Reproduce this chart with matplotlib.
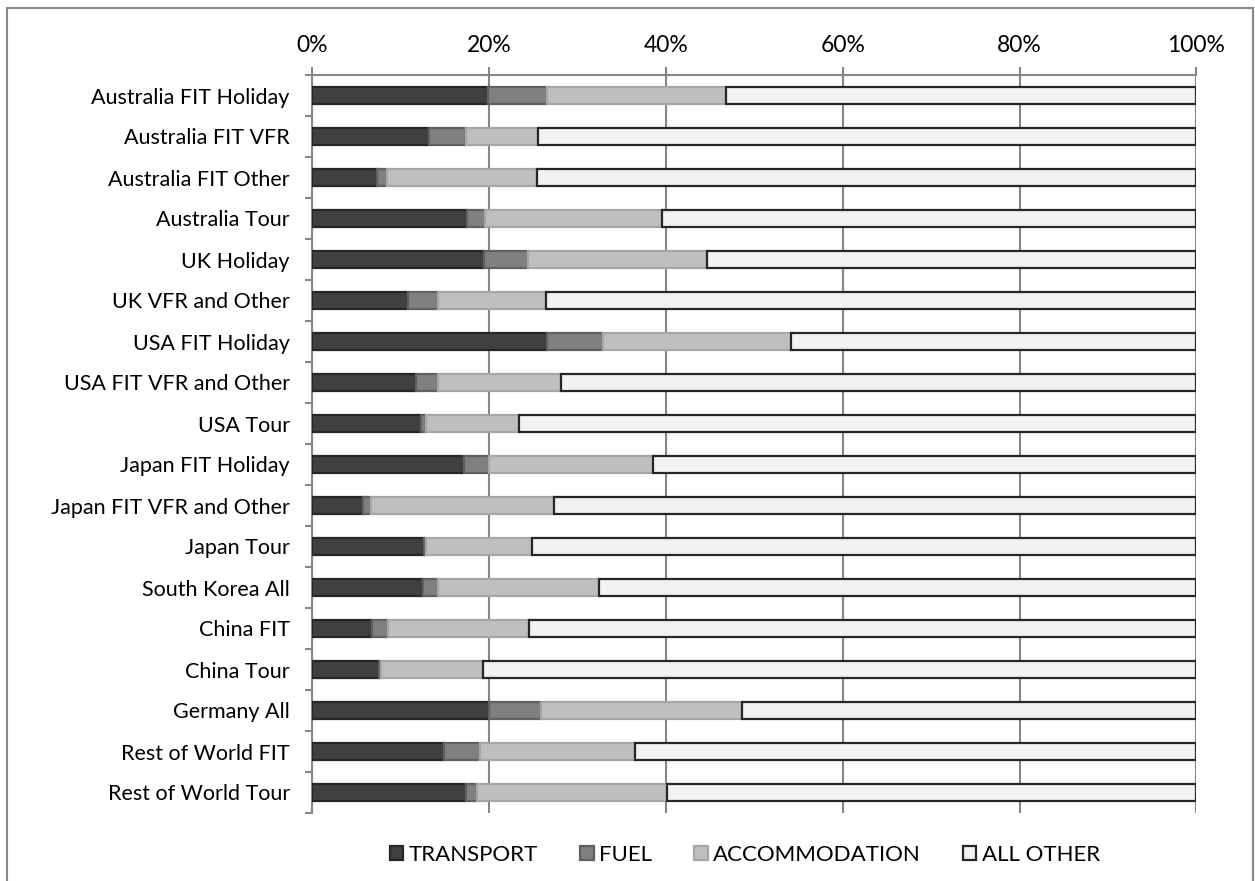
import matplotlib.pyplot as plt
import numpy as np
from matplotlib.patches import Rectangle

# categories, top to bottom
categories = ["Australia FIT Holiday", "Australia FIT VFR", "Australia FIT Other",
              "Australia Tour", "UK Holiday", "UK VFR and Other", "USA FIT Holiday",
              "USA FIT VFR and Other", "USA Tour", "Japan FIT Holiday",
              "Japan FIT VFR and Other", "Japan Tour", "South Korea All", "China FIT",
              "China Tour", "Germany All", "Rest of World FIT", "Rest of World Tour"]

# share of spend (%)
transport = [19.9, 13.2, 7.4, 17.5, 19.5, 10.9, 26.6, 11.8, 12.3, 17.2,
             5.8, 12.7, 12.5, 6.8, 7.6, 20.0, 14.9, 17.4]
fuel = [6.7, 4.2, 1.1, 2.1, 4.9, 3.3, 6.3, 2.5, 0.6, 2.8,
        0.9, 0.2, 1.7, 1.8, 0.2, 5.9, 4.1, 1.3]
accommodation = [20.2, 8.1, 16.9, 20.0, 20.3, 12.2, 21.2, 13.8, 10.5, 18.6,
                 20.7, 12.0, 18.2, 15.9, 11.5, 22.7, 17.5, 21.4]
all_other = [100 - a - b - c for a, b, c in zip(transport, fuel, accommodation)]

series = ["TRANSPORT", "FUEL", "ACCOMMODATION", "ALL OTHER"]
xticks = [0, 20, 40, 60, 80, 100]

plt.rcParams['font.family'] = ['Lato', 'DejaVu Sans']

fig = plt.figure(figsize=(12.55, 8.81), dpi=100)
ax = fig.add_axes([312 / 1255, 1 - 813 / 881, (1196.5 - 312) / 1255, (813 - 75) / 881])

fills = ["#404040", "#808080", "#bfbfbf", "#f2f2f2"]
edges = ["#262626", "#606060", "#a6a6a6", "#262626"]
y = np.arange(len(categories))
left = np.zeros(len(categories))
for vals, name, fc, ec in zip([transport, fuel, accommodation, all_other], series, fills, edges):
    ax.barh(y, vals, left=left, height=0.41, color=fc, edgecolor=ec, linewidth=1.6,
            label=name, zorder=3)
    left = left + np.array(vals)

ax.set_xlim(0, 100)
ax.set_ylim(len(categories) - 0.5, -0.5)

ax.xaxis.tick_top()
ax.set_xticks(xticks)
ax.set_xticklabels([f"{t}%" for t in xticks], fontsize=16.5)
ax.tick_params(axis='x', direction='out', length=6, width=1.5, color='#868686', pad=8)
ax.grid(axis='x', color='#868686', linewidth=1.5, zorder=0)

ax.set_yticks(y)
ax.set_yticklabels(categories, fontsize=15.5)
ax.tick_params(axis='y', which='major', length=0, pad=16)
ax.set_yticks(np.arange(-0.5, len(categories), 1), minor=True)
ax.tick_params(axis='y', which='minor', direction='out', length=5, width=1.5, color='#868686')

for s in ['right', 'bottom']:
    ax.spines[s].set_visible(False)
for s in ['top', 'left']:
    ax.spines[s].set_color('#868686')
    ax.spines[s].set_linewidth(1.5)

leg = fig.legend(*ax.get_legend_handles_labels(), loc='center', ncol=4,
                 bbox_to_anchor=(745 / 1255, 1 - 855 / 881), frameon=False,
                 fontsize=16, handlelength=0.6, handleheight=0.6,
                 handletextpad=0.25, columnspacing=1.9)

# outer chart border
fig.add_artist(Rectangle((7 / 1255, -0.1), 1246 / 1255, 1.1 - 8 / 881,
                         transform=fig.transFigure, fill=False,
                         edgecolor='#868686', linewidth=1.5))

fig.savefig("out.png", dpi=100)
